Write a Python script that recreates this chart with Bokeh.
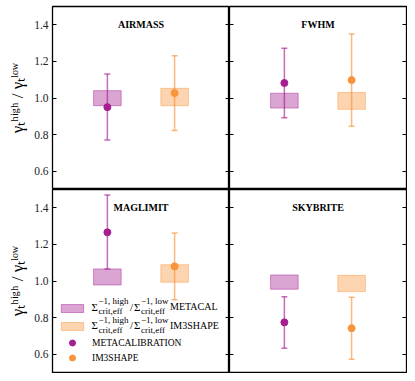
import numpy as np
from bokeh.plotting import figure
from bokeh.models import (ColumnDataSource, Whisker, TeeHead, Label, Legend, LegendItem,
                          LinearAxis, FixedTicker, Range1d, CustomJSTickFormatter)
from bokeh.layouts import gridplot
from bokeh.embed import file_html
from bokeh.resources import INLINE

# ---------------- data ----------------
panels = ["AIRMASS", "FWHM", "MAGLIMIT", "SKYBRITE"]
methods = ["metacal", "im3shape"]

mcal_ratio = [0.95, 1.082, 1.266, 0.774]
mcal_err_lo = [0.770, 0.892, 1.066, 0.632]
mcal_err_hi = [1.131, 1.272, 1.470, 0.914]
im3_ratio = [1.027, 1.098, 1.080, 0.742]
im3_err_lo = [0.822, 0.845, 0.898, 0.572]
im3_err_hi = [1.231, 1.350, 1.262, 0.911]

mcal_sig_lo = [0.958, 0.945, 0.978, 0.955]
mcal_sig_hi = [1.040, 1.026, 1.066, 1.033]
im3_sig_lo = [0.958, 0.938, 0.993, 0.942]
im3_sig_hi = [1.053, 1.030, 1.089, 1.031]

yticks = [0.6, 0.8, 1.0, 1.2, 1.4]
ytick_labels = ["0.6", "0.8", "1.0", "1.2", "1.4"]
ylabel = "γₜʰⁱᵍʰ / γₜˡᵒʷ"

# ---------------- style ----------------
PURPLE = "#a51e92"
ORANGE = "#f9943a"
FONT = "Liberation Serif"
FRAME_W = 177
LEFT_BORDER = 52
TOP_BORDER = 6
FRAME_H = [183, 183]
X0, X1 = -0.816, 1.816       # x range (method index 0 / 1)
BOX_W = 0.41

method_x = list(range(len(methods)))


def ref_x(px):
    """reference-pixel x inside a left panel -> data x"""
    return X0 + (px - 53) / 177.0 * (X1 - X0)


def ref_y(py, y_one):
    """reference-pixel y -> data y, y_one = pixel of y=1.0"""
    return 1.0 - (py - y_one) / 183.0


def make_panel(i):
    r, c = divmod(i, 2)
    left = c == 0
    top = r == 0
    p = figure(width=FRAME_W + (LEFT_BORDER if left else 1),
               height=FRAME_H[r] + (TOP_BORDER if top else 1),
               x_range=Range1d(X0, X1), y_range=Range1d(0.5, 1.5),
               output_backend="svg", toolbar_location=None,
               min_border_left=LEFT_BORDER if left else 0,
               min_border_right=0 if left else 1,
               min_border_top=TOP_BORDER if top else 0,
               min_border_bottom=0 if top else 1)
    p.xaxis.visible = False
    p.xgrid.visible = False
    p.ygrid.visible = False
    p.outline_line_color = "black"
    p.outline_line_width = 1.3
    p.outline_line_alpha = 1.0
    p.background_fill_color = "white"
    p.border_fill_color = "white"

    right_ax = LinearAxis()
    p.add_layout(right_ax, "right")
    for ax in (p.yaxis[0], right_ax):
        ax.ticker = FixedTicker(ticks=yticks, minor_ticks=[])
        ax.axis_line_color = None
        ax.major_tick_in = 4
        ax.major_tick_out = 0
        ax.major_tick_line_color = "black"
        ax.major_tick_line_width = 1
        ax.minor_tick_line_color = None
    if left:
        ax = p.yaxis[0]
        ax.major_label_overrides = {t: s for t, s in zip(yticks, ytick_labels)}
        ax.major_label_text_font = FONT
        ax.major_label_text_font_size = "11.5px"
        ax.major_label_text_color = "#222222"
        ax.major_label_standoff = 4
        ax.axis_label = ylabel
        ax.axis_label_text_font = FONT
        ax.axis_label_text_font_size = "17px"
        ax.axis_label_text_font_style = "normal"
        ax.axis_label_text_color = "black"
        ax.axis_label_standoff = 4
        hidden = [right_ax]
    else:
        hidden = [p.yaxis[0], right_ax]
    for ax in hidden:
        ax.formatter = CustomJSTickFormatter(code="return ''")
        ax.major_label_text_color = None
        ax.major_label_standoff = 0

    # sigma-crit ratio boxes
    src_m = ColumnDataSource(dict(x=[method_x[0]], lo=[mcal_sig_lo[i]], hi=[mcal_sig_hi[i]]))
    src_i = ColumnDataSource(dict(x=[method_x[1]], lo=[im3_sig_lo[i]], hi=[im3_sig_hi[i]]))
    box_m = p.vbar(x="x", bottom="lo", top="hi", width=BOX_W, source=src_m,
                   fill_color=PURPLE, fill_alpha=0.4, line_color=PURPLE, line_alpha=0.45, line_width=1)
    box_i = p.vbar(x="x", bottom="lo", top="hi", width=BOX_W, source=src_i,
                   fill_color=ORANGE, fill_alpha=0.4, line_color=ORANGE, line_alpha=0.45, line_width=1)

    # measured ratios with error bars
    pt_src_m = ColumnDataSource(dict(x=[method_x[0]], y=[mcal_ratio[i]],
                                     lo=[mcal_err_lo[i]], hi=[mcal_err_hi[i]]))
    pt_src_i = ColumnDataSource(dict(x=[method_x[1]], y=[im3_ratio[i]],
                                     lo=[im3_err_lo[i]], hi=[im3_err_hi[i]]))
    for src, col in ((pt_src_m, PURPLE), (pt_src_i, ORANGE)):
        w = Whisker(base="x", lower="lo", upper="hi", source=src, dimension="height",
                    line_color=col, line_alpha=0.65, line_width=1.5, level="glyph",
                    upper_head=TeeHead(size=6, line_color=col, line_alpha=0.65, line_width=1.5),
                    lower_head=TeeHead(size=6, line_color=col, line_alpha=0.65, line_width=1.5))
        p.add_layout(w)
    sc_m = p.scatter(x="x", y="y", source=pt_src_m, size=7, color=PURPLE)
    sc_i = p.scatter(x="x", y="y", source=pt_src_i, size=7, color=ORANGE)

    # panel title
    p.add_layout(Label(x=0.5, y=1.4, text=panels[i], text_align="center", text_baseline="middle",
                       text_font=FONT, text_font_style="bold", text_font_size="10px",
                       text_color="black"))
    return p, box_m, box_i, sc_m, sc_i


figs = []
handles = []
for i in range(4):
    out = make_panel(i)
    figs.append(out[0])
    handles.append(out[1:])

# legend in the lower-left panel
pl = figs[2]
box_m, box_i, sc_m, sc_i = handles[2]
common = dict(orientation="vertical", spacing=0, padding=0, margin=0, label_standoff=6,
              label_text_font=FONT, label_text_font_size="9.5px", label_text_color="black",
              background_fill_alpha=0, border_line_alpha=0, glyph_width=28, label_width=10)
legend_boxes = Legend(items=[LegendItem(label=" ", renderers=[box_m]),
                             LegendItem(label=" ", renderers=[box_i])],
                      location=(6, 37), glyph_height=10, label_height=18, **common)
legend_pts = Legend(items=[LegendItem(label="METACALIBRATION", renderers=[sc_m]),
                           LegendItem(label="IM3SHAPE", renderers=[sc_i])],
                    location=(6, 7), glyph_height=15, label_height=15, **common)
pl.add_layout(legend_boxes)
pl.add_layout(legend_pts)

y_one_b = 282
for row_mid, suffix in ((307.5, "METACAL"), (326, "IM3SHAPE")):
    parts = [
        ("Σ", 92, row_mid, "11px"),
        ("−1, high", 99, row_mid - 5.5, "9px"),
        ("crit,eff", 99, row_mid + 4.5, "9px"),
        ("/", 130.5, row_mid, "11px"),
        ("Σ", 134.5, row_mid, "11px"),
        ("−1, low", 141.5, row_mid - 5.5, "9px"),
        ("crit,eff", 141.5, row_mid + 4.5, "9px"),
        (suffix, 170.5, row_mid, "10px"),
    ]
    for txt, px, py, fs in parts:
        pl.add_layout(Label(x=ref_x(px), y=ref_y(py, y_one_b), text=txt,
                            text_align="left", text_baseline="middle",
                            text_font=FONT, text_font_size=fs, text_color="black"))

grid = gridplot([[figs[0], figs[1]], [figs[2], figs[3]]], toolbar_location=None)

open("out.html", "w").write(file_html(grid, INLINE))
